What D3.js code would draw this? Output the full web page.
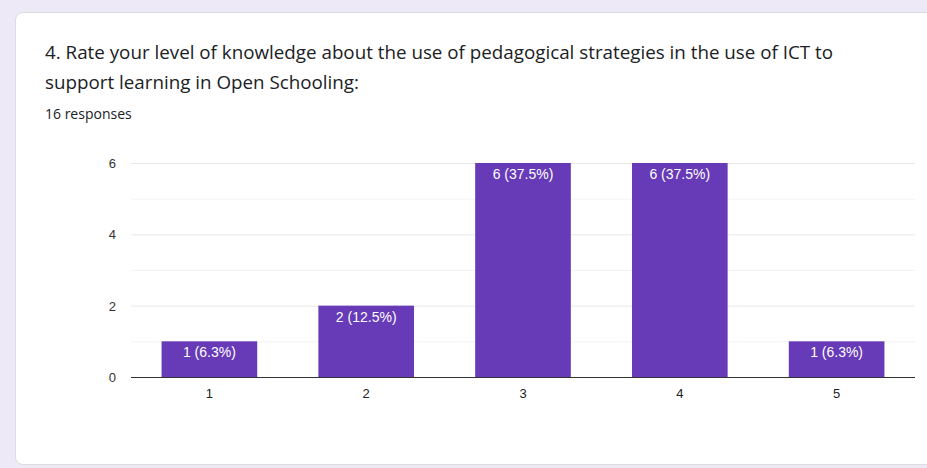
<!DOCTYPE html>
<html>
<head>
<meta charset="utf-8">
<script src="https://cdn.jsdelivr.net/npm/d3@7"></script>
<style>
  body { margin: 0; background: #ede9f6; font-family: Roboto, Arial, sans-serif; }
  #card {
    position: absolute; left: 15px; top: 12px; width: 920px; height: 453px;
    background: #fff; border: 1px solid #dadce0; border-radius: 8px; box-sizing: border-box;
  }
  #title { position: absolute; left: 29px; top: 24px; width: 815px; font-family: "Open Sans", sans-serif; font-size: 18.8px; line-height: 30px; color: #202124; }
  #count { position: absolute; left: 29px; top: 91px; font-family: "Open Sans", sans-serif; font-size: 14px; color: #202124; }
  svg { position: absolute; left: 0; top: 0; }
</style>
</head>
<body>
<div id="card">
  <div id="title">4. Rate your level of knowledge about the use of pedagogical strategies in the use of ICT to support learning in Open Schooling:</div>
  <div id="count">16 responses</div>
</div>
<div id="target"></div>
<script>
const categories = ["1", "2", "3", "4", "5"];
const counts = [1, 2, 6, 6, 1];
const labels = ["1 (6.3%)", "2 (12.5%)", "6 (37.5%)", "6 (37.5%)", "1 (6.3%)"];
const yTicks = [0, 2, 4, 6];

const margin = {top: 163, right: 12, bottom: 91, left: 131},
  width = 927 - margin.left - margin.right,
  height = 468 - margin.top - margin.bottom;

let svg = d3.select("#target").append("svg")
  .attr("width", 927)
  .attr("height", 468);

let x = d3.scaleBand().domain(categories).range([0, width]).paddingInner(0.39).paddingOuter(0.195);
let y = d3.scaleLinear().domain([0, 6]).range([height, 0]);

let g = svg.append("g").attr("transform", `translate(${margin.left},${margin.top})`);

// gridlines
g.selectAll(".grid")
  .data(d3.range(0, 7))
  .enter().append("line")
  .attr("x1", 0).attr("x2", width)
  .attr("y1", d => y(d) + 0.5).attr("y2", d => y(d) + 0.5)
  .attr("stroke", d => d % 2 === 0 ? "#e8e8e8" : "#f3f3f3")
  .attr("stroke-width", 1);

// y labels
g.selectAll(".ylab")
  .data(yTicks)
  .enter().append("text")
  .attr("x", -15).attr("y", d => y(d) + 5)
  .attr("text-anchor", "end")
  .attr("font-family", "Arial, sans-serif")
  .attr("font-size", 13).attr("fill", "#333")
  .text(d => d);

g.selectAll(".bar")
  .data(counts)
  .enter().append("rect")
  .attr("x", (d, i) => x(categories[i]))
  .attr("y", d => y(d))
  .attr("width", x.bandwidth())
  .attr("height", d => height - y(d))
  .attr("fill", "#673ab7");

g.selectAll(".blab")
  .data(counts)
  .enter().append("text")
  .attr("x", (d, i) => x(categories[i]) + x.bandwidth() / 2)
  .attr("y", d => y(d) + 16)
  .attr("text-anchor", "middle")
  .attr("font-family", "Arial, sans-serif")
  .attr("font-size", 14).attr("fill", "#fff")
  .text((d, i) => labels[i]);

// baseline
g.append("line")
  .attr("x1", 0).attr("x2", width)
  .attr("y1", height + 0.5).attr("y2", height + 0.5)
  .attr("stroke", "#333").attr("stroke-width", 1);

g.selectAll(".xlab")
  .data(categories)
  .enter().append("text")
  .attr("x", d => x(d) + x.bandwidth() / 2)
  .attr("y", height + 21)
  .attr("text-anchor", "middle")
  .attr("font-family", "Arial, sans-serif")
  .attr("font-size", 13).attr("fill", "#222")
  .text(d => d);
</script>
</body>
</html>
